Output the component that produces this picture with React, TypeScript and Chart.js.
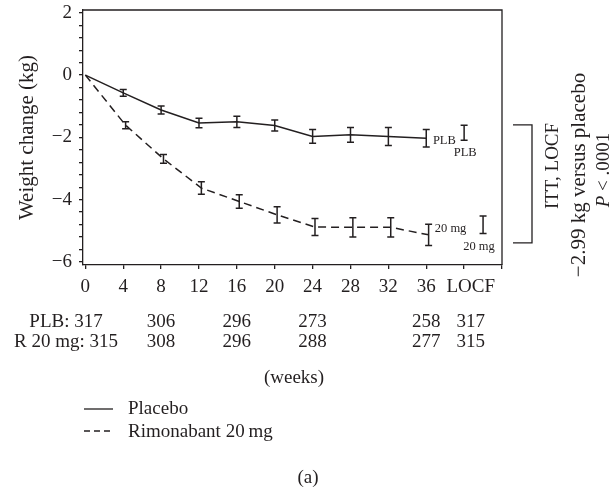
import React, { useEffect, useRef } from 'react';
import { Chart, registerables } from 'chart.js';

Chart.register(...registerables);

const FONT = "'Liberation Serif', 'DejaVu Serif', serif";
const INK = '#231f20';

// ---- data ----
const weeks = [0, 4, 8, 12, 16, 20, 24, 28, 32, 36];
const placeboMean = [0, -0.57, -1.12, -1.54, -1.5, -1.62, -1.97, -1.92, -1.97, -2.03];
const placeboSE = [0, 0.11, 0.13, 0.15, 0.18, 0.18, 0.22, 0.24, 0.29, 0.28];
const rimMean = [0, -1.61, -2.69, -3.63, -4.06, -4.49, -4.88, -4.89, -4.89, -5.13];
const rimSE = [0, 0.11, 0.14, 0.2, 0.22, 0.26, 0.27, 0.31, 0.31, 0.34];
const locfPlaceboWeek = [40];
const locfPlaceboMean = [-1.85];
const locfPlaceboSE = [0.24];
const locfRimWeek = [42];
const locfRimMean = [-4.81];
const locfRimSE = [0.28];

const xTickValues = [0, 4, 8, 12, 16, 20, 24, 28, 32, 36, 40, 44];
const xTickLabels = ['0', '4', '8', '12', '16', '20', '24', '28', '32', '36', '\u2002\u2009LOCF', ''];
const yMajorTicks = [-6, -4, -2, 0, 2];

const countColumns = [8, 16, 24, 36, 40.7];
const placeboCounts = ['306', '296', '273', '258', '317'];
const rimCounts = ['308', '296', '288', '277', '315'];
const placeboRowLabel = 'PLB: 317';
const rimRowLabel = 'R 20 mg: 315';

const RIM_SHIFT = 0.25;

function fmtY(v: number) {
  const r = Math.round(v * 100) / 100;
  if (!yMajorTicks.includes(r)) return '';
  return r < 0 ? '\u2212' + Math.abs(r) : String(r);
}

const overlay = {
  id: 'overlay',
  afterDatasetsDraw(chart: any) {
    const { ctx, chartArea: a, scales } = chart;
    const x = scales.x;
    const y = scales.y;
    ctx.save();
    ctx.strokeStyle = INK;
    ctx.fillStyle = INK;
    ctx.setLineDash([]);
    // frame top & right
    ctx.lineWidth = 1.3;
    ctx.beginPath();
    ctx.moveTo(a.left, a.top);
    ctx.lineTo(a.right, a.top);
    ctx.lineTo(a.right, a.bottom);
    ctx.stroke();

    // error bars
    ctx.lineWidth = 1.5;
    chart.data.datasets.forEach((ds: any) => {
      const se = ds.se as number[];
      if (!se) return;
      ds.data.forEach((p: any, i: number) => {
        const e = se[i];
        if (!e) return;
        const px = x.getPixelForValue(p.x);
        const y1 = y.getPixelForValue(p.y + e);
        const y2 = y.getPixelForValue(p.y - e);
        ctx.beginPath();
        ctx.moveTo(px, y1);
        ctx.lineTo(px, y2);
        ctx.moveTo(px - 3.5, y1);
        ctx.lineTo(px + 3.5, y1);
        ctx.moveTo(px - 3.5, y2);
        ctx.lineTo(px + 3.5, y2);
        ctx.stroke();
      });
    });

    // in-plot labels
    ctx.font = `12.5px ${FONT}`;
    ctx.textAlign = 'left';
    ctx.textBaseline = 'middle';
    ctx.fillText('PLB', x.getPixelForValue(36.7), y.getPixelForValue(-2.12));
    ctx.fillText('PLB', x.getPixelForValue(38.9), y.getPixelForValue(-2.5));
    ctx.fillText('20 mg', x.getPixelForValue(36.9), y.getPixelForValue(-4.93));
    ctx.fillText('20 mg', x.getPixelForValue(39.9), y.getPixelForValue(-5.5));

    // bracket
    const bTop = y.getPixelForValue(-1.6);
    const bBot = y.getPixelForValue(-5.39);
    ctx.lineWidth = 1.3;
    ctx.beginPath();
    ctx.moveTo(a.right + 11, bTop);
    ctx.lineTo(a.right + 30, bTop);
    ctx.lineTo(a.right + 30, bBot);
    ctx.lineTo(a.right + 11, bBot);
    ctx.stroke();

    // rotated annotation
    const rot = (cx: number, cy: number, fn: () => void) => {
      ctx.save();
      ctx.translate(cx, cy);
      ctx.rotate(-Math.PI / 2);
      fn();
      ctx.restore();
    };
    ctx.textAlign = 'center';
    ctx.font = `19px ${FONT}`;
    rot(553, 166, () => ctx.fillText('ITT, LOCF', 0, 0));
    ctx.font = `21px ${FONT}`;
    rot(579, 175, () => ctx.fillText('\u22122.99 kg versus placebo', 0, 0));
    rot(604, 170, () => {
      ctx.font = `italic 19px ${FONT}`;
      const wP = ctx.measureText('P').width;
      ctx.font = `19px ${FONT}`;
      const rest = ' < .0001';
      const wR = ctx.measureText(rest).width;
      const start = -(wP + wR) / 2;
      ctx.textAlign = 'left';
      ctx.font = `italic 19px ${FONT}`;
      ctx.fillText('P', start, 0);
      ctx.font = `19px ${FONT}`;
      ctx.fillText(rest, start + wP, 0);
    });

    // counts table
    ctx.font = `19px ${FONT}`;
    ctx.textAlign = 'center';
    ctx.textBaseline = 'middle';
    ctx.fillText(placeboRowLabel, 66, 322);
    ctx.fillText(rimRowLabel, 66, 342);
    countColumns.forEach((c, i) => {
      const px = x.getPixelForValue(c);
      ctx.fillText(placeboCounts[i], px, 322);
      ctx.fillText(rimCounts[i], px, 342);
    });

    ctx.fillText('(weeks)', 294, 378);

    // legend
    ctx.textAlign = 'left';
    ctx.lineWidth = 1.3;
    ctx.beginPath();
    ctx.moveTo(84, 409);
    ctx.lineTo(113, 409);
    ctx.stroke();
    ctx.fillText('Placebo', 128, 409);
    ctx.setLineDash([6, 4]);
    ctx.beginPath();
    ctx.moveTo(84, 431);
    ctx.lineTo(113, 431);
    ctx.stroke();
    ctx.setLineDash([]);
    ctx.fillText('Rimonabant 20\u2009mg', 128, 432);

    ctx.textAlign = 'center';
    ctx.fillText('(a)', 308, 478);
    ctx.restore();
  },
};

export default function App() {
  const ref = useRef<HTMLCanvasElement | null>(null);
  useEffect(() => {
    if (!ref.current) return;
    const chart = new Chart(ref.current, {
      type: 'line',
      data: {
        datasets: [
          {
            label: 'Placebo',
            data: weeks.map((w, i) => ({ x: w, y: placeboMean[i] })),
            borderColor: INK,
            borderWidth: 1.5,
            pointRadius: 0,
            fill: false,
            tension: 0,
            se: placeboSE,
          } as any,
          {
            label: 'Rimonabant 20 mg',
            data: weeks.map((w, i) => ({ x: w === 0 ? 0 : w + RIM_SHIFT, y: rimMean[i] })),
            borderColor: INK,
            borderWidth: 1.5,
            borderDash: [8, 5],
            pointRadius: 0,
            fill: false,
            tension: 0,
            se: rimSE,
          } as any,
          {
            label: 'Placebo LOCF',
            data: locfPlaceboWeek.map((w, i) => ({ x: w, y: locfPlaceboMean[i] })),
            showLine: false,
            pointRadius: 0,
            se: locfPlaceboSE,
          } as any,
          {
            label: 'Rimonabant LOCF',
            data: locfRimWeek.map((w, i) => ({ x: w, y: locfRimMean[i] })),
            showLine: false,
            pointRadius: 0,
            se: locfRimSE,
          } as any,
        ],
      },
      options: {
        responsive: false,
        animation: false,
        layout: { padding: { left: 0, top: 10, right: 113, bottom: 0 } },
        plugins: { legend: { display: false }, tooltip: { enabled: false } },
        scales: {
          x: {
            type: 'linear',
            min: -0.25,
            max: 44,
            afterBuildTicks: (s: any) => {
              s.ticks = xTickValues.map((v) => ({ value: v }));
            },
            afterFit: (s: any) => {
              s.height = 225;
              s.paddingLeft = 0;
              s.paddingRight = 0;
            },
            ticks: {
              autoSkip: false,
              maxRotation: 0,
              color: INK,
              padding: 7,
              font: { family: FONT, size: 19 },
              callback: (_v: any, i: number) => xTickLabels[i],
            },
            grid: { drawOnChartArea: false, drawTicks: true, tickLength: 4, color: INK, lineWidth: 1.3 },
            border: { display: true, color: INK, width: 1.3 },
          },
          y: {
            type: 'linear',
            min: -6.1,
            max: 2.09,
            afterBuildTicks: (s: any) => {
              const t = [];
              for (let k = 0; k <= 20; k++) t.push({ value: Math.round((-6 + k * 0.4) * 100) / 100 });
              s.ticks = t;
            },
            afterFit: (s: any) => {
              s.width = 83;
              s.paddingTop = 0;
              s.paddingBottom = 0;
            },
            ticks: {
              autoSkip: false,
              color: INK,
              padding: 7,
              font: { family: FONT, size: 19 },
              callback: (v: any) => fmtY(Number(v)),
            },
            title: {
              display: true,
              text: 'Weight change (kg)',
              color: INK,
              font: { family: FONT, size: 21 },
              padding: { top: 15, bottom: 0 },
            },
            grid: { drawOnChartArea: false, drawTicks: true, tickLength: 4, color: INK, lineWidth: 1.3 },
            border: { display: true, color: INK, width: 1.3 },
          },
        },
      },
      plugins: [overlay],
    } as any);
    return () => chart.destroy();
  }, []);
  return (
    <div style={{ position: 'absolute', left: 0, top: 0, width: 615, height: 490, background: '#fff' }}>
      <canvas ref={ref} width={615} height={490} style={{ display: 'block' }} />
    </div>
  );
}
